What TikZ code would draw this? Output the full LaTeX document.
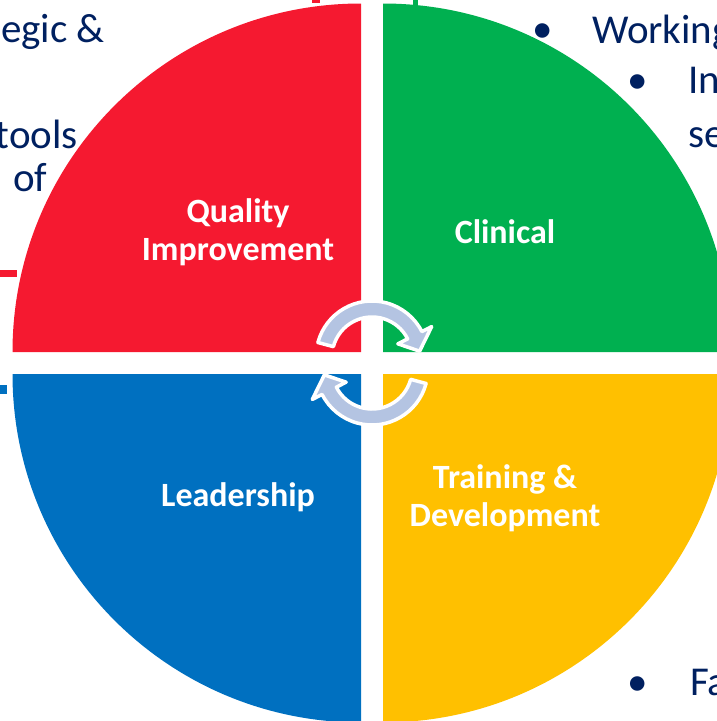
\documentclass[tikz,border=0pt]{standalone}
\usepackage{fontspec}
\setmainfont{Carlito}
\usetikzlibrary{calc}
\definecolor{qred}{RGB}{245,25,48}
\definecolor{qgreen}{RGB}{0,176,80}
\definecolor{qblue}{RGB}{0,112,192}
\definecolor{qyellow}{RGB}{255,192,0}
\definecolor{navy}{RGB}{0,32,96}
\definecolor{arrowc}{RGB}{180,196,226}
\begin{document}
\begin{tikzpicture}[x=1pt,y=-1pt,
  lbl/.style={text=white,align=center,inner sep=0pt,font=\fontsize{34}{38}\selectfont\bfseries},
  txt/.style={text=navy,inner sep=0pt,font=\fontsize{41}{48}\selectfont},
  cyc/.style={fill=arrowc,draw=white,line width=3.5pt,line join=round}]
\useasboundingbox (0,0) rectangle (717,721);
\clip (0,0) rectangle (717,721);
% quadrants
\coordinate (cr) at (361,352);
\coordinate (cg) at (383,352);
\coordinate (cb) at (361,374);
\coordinate (cy) at (383,374);
\fill[qred] (cr) -- ++(-348.5,0) arc[start angle=180,end angle=270,radius=348.5] -- cycle;
\fill[qgreen] (cg) -- ++(0,-348.5) arc[start angle=270,end angle=360,radius=348.5] -- cycle;
\fill[qblue] (cb) -- ++(-348.5,0) arc[start angle=180,end angle=90,radius=348.5] -- cycle;
\fill[qyellow] (cy) -- ++(348.5,0) arc[start angle=0,end angle=90,radius=348.5] -- cycle;
% connector stubs
\fill[qred] (0,270) rectangle (17,277);
\fill[qblue] (0,385) rectangle (7,394);
\fill[qred] (312,0) rectangle (320,3);
\fill[qgreen] (413,0) rectangle (418,6);
% cycle arrows
\coordinate (c1) at (372,357);
\coordinate (c2) at (372,369);
\path[cyc] ([shift={(-165:56)}]c1) arc[start angle=-165,end angle=-27,radius=56]
  -- ([shift={(-27:67)}]c1) -- ([shift={(-7:48)}]c1) -- ([shift={(-27:29)}]c1)
  -- ([shift={(-27:40)}]c1) arc[start angle=-27,end angle=-165,radius=40] -- cycle;
\path[cyc] ([shift={(15:56)}]c2) arc[start angle=15,end angle=153,radius=56]
  -- ([shift={(153:67)}]c2) -- ([shift={(173:48)}]c2) -- ([shift={(153:29)}]c2)
  -- ([shift={(153:40)}]c2) arc[start angle=153,end angle=15,radius=40] -- cycle;
% labels
\node[lbl] (qi) at (238,232) {Quality\\Improvement};
\node[lbl] (cl) at (505,232) {Clinical};
\node[lbl] (ld) at (238,497) {Leadership};
\node[lbl] (td) at (505,498) {Training \&\\Development};
% slide text fragments
\node[txt,anchor=base east] (t1) at (105,42) {egic \&};
\node[txt,anchor=base east] (t2) at (78,148) {tools};
\node[txt,anchor=base west] (t3) at (13,191) {of};
\node[txt,anchor=base west] (b1) at (532,42) {•};
\node[txt,anchor=base west] (w1) at (592,43) {Working};
\node[txt,anchor=base west] (b2) at (627,93) {•};
\node[txt,anchor=base west] (w2) at (688,93) {In};
\node[txt,anchor=base west] (w3) at (688,147) {se};
\node[txt,anchor=base west] (b3) at (627,695) {•};
\node[txt,anchor=base west] (w4) at (690,695) {Fa};
\end{tikzpicture}
\end{document}
